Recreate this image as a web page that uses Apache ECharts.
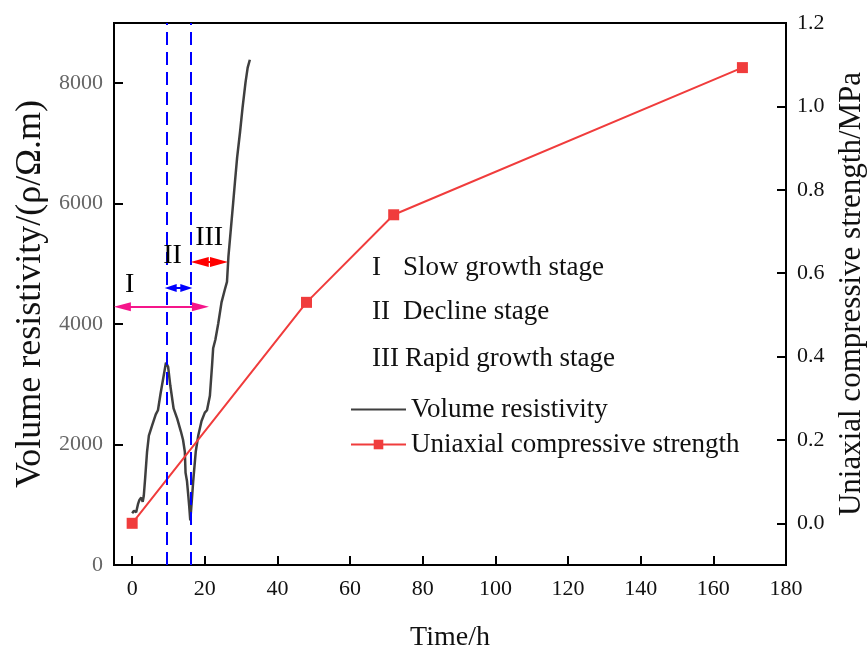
<!DOCTYPE html>
<html>
<head>
<meta charset="utf-8">
<script src="https://cdn.jsdelivr.net/npm/echarts@6/dist/echarts.min.js"></script>
<style>
  html, body { margin: 0; padding: 0; background: #fff; }
  #main { width: 867px; height: 650px; }
</style>
</head>
<body>
<div id="main"></div>
<script>
  // volume resistivity curve (time in h, rho in Ω.m)
  const resTime = [0, 0.5, 1.1, 1.6, 2.0, 2.5, 2.9, 3.2, 3.6, 4.1, 4.6, 5.5, 6.5, 7.1, 7.8, 8.7, 9.3,
    9.9, 10.5, 11.4, 12.4, 13.4, 14.0, 14.5, 14.7, 15.1, 15.4, 15.7, 16.0, 16.4, 16.8, 17.5, 18.2,
    19.1, 20.0, 20.6, 21.4, 22.0, 22.3, 22.9, 23.7, 24.6, 25.5, 26.1, 26.5, 27.1, 27.8, 28.3, 28.9,
    29.7, 30.4, 31.2, 31.8, 32.4]
  const resValue = [860, 900, 875, 1010, 1080, 1120, 1050, 1150, 1460, 1880, 2150, 2320, 2500, 2570, 2840, 3150, 3360,
    3290, 2980, 2600, 2430, 2220, 2080, 1880, 1530, 1390, 1190, 980, 740, 1050, 1390, 1880, 2150,
    2390, 2530, 2570, 2810, 3320, 3600, 3740, 4010, 4360, 4570, 4700, 5120, 5530, 6010, 6360, 6770,
    7190, 7600, 8010, 8260, 8390]

  // uniaxial compressive strength (MPa)
  const ucsTime = [0, 48, 72, 168]
  const ucsValue = [0, 0.53, 0.74, 1.093]

  // stage boundaries (h)
  const stageBounds = [9.4, 16.1]
  // stage arrows: [from, to, level] (ends sit at the arrow head centres)
  const arrowI = [-2.7, 18.8, 4290]
  const arrowII = [10.6, 14.9, 4600]
  const arrowIII = [18.6, 23.9, 5030]
  const stageNames = ['I', 'II', 'III']
  const stageLabelPos = [[-0.7, 4650], [11.1, 5130], [21.2, 5430]]

  const xTicks = [0, 20, 40, 60, 80, 100, 120, 140, 160, 180]
  const leftTicks = [0, 2000, 4000, 6000, 8000]
  const rightTicks = [0, 0.2, 0.4, 0.6, 0.8, 1.0, 1.2]

  const FONT = 'Liberation Serif'

  function arrowLine (a, color, size) {
    return {
      silent: true,
      label: { show: false },
      lineStyle: { color: color, width: 2, type: 'solid' },
      data: [[{ coord: [a[0], a[2]] }, { coord: [a[1], a[2]] }]],
      symbol: ['triangle', 'triangle'],
      symbolSize: size
    }
  }

  const option = {
    animation: false,
    textStyle: { fontFamily: FONT },
    grid: {
      left: 114, right: 81, top: 23, bottom: 85,
      outerBoundsMode: 'none',
      show: true, borderColor: '#000', borderWidth: 2
    },
    legend: {
      data: [
        { name: 'Volume resistivity', itemStyle: { opacity: 0 } },
        { name: 'Uniaxial compressive strength' }
      ],
      orient: 'vertical',
      left: 345, top: 391,
      itemWidth: 55, itemHeight: 12, itemGap: 8,
      textStyle: { fontFamily: FONT, fontSize: 27, color: '#111' }
    },
    xAxis: {
      type: 'value', min: -5, max: 180,
      name: 'Time/h', nameLocation: 'middle', nameGap: 59,
      nameTextStyle: { fontFamily: FONT, fontSize: 28, color: '#111' },
      axisLine: { show: true, onZero: false, lineStyle: { color: '#000', width: 2 } },
      axisTick: { show: true, inside: true, length: 9, customValues: xTicks, lineStyle: { color: '#000', width: 2 } },
      axisLabel: { customValues: xTicks, fontFamily: FONT, fontSize: 22, color: '#111', margin: 13 },
      splitLine: { show: false }
    },
    yAxis: [{
      type: 'value', min: 0, max: 9000,
      name: 'Volume resistivity/(ρ/Ω.m)', nameLocation: 'middle', nameGap: 60,
      nameTextStyle: { fontFamily: FONT, fontSize: 36, color: '#111' },
      axisLine: { show: true, onZero: false, lineStyle: { color: '#000', width: 2 } },
      axisTick: { show: true, inside: true, length: 9, customValues: leftTicks, lineStyle: { color: '#000', width: 2 } },
      axisLabel: {
        customValues: leftTicks, fontFamily: FONT, fontSize: 22, color: '#666', margin: 11,
        formatter: function (v) { return String(v) }
      },
      splitLine: { show: false }
    }, {
      type: 'value', min: -0.1, max: 1.2, position: 'right',
      name: 'Uniaxial compressive strength/MPa', nameLocation: 'middle', nameGap: 50,
      nameRotate: 90,
      nameTextStyle: { fontFamily: FONT, fontSize: 31, color: '#111' },
      axisLine: { show: true, onZero: false, lineStyle: { color: '#000', width: 2 } },
      axisTick: { show: true, inside: true, length: 9, customValues: rightTicks, lineStyle: { color: '#000', width: 2 } },
      axisLabel: {
        customValues: rightTicks, fontFamily: FONT, fontSize: 22, color: '#111', margin: 11,
        formatter: function (v) { return v.toFixed(1) }
      },
      splitLine: { show: false }
    }],
    graphic: [
      { type: 'text', left: 372, top: 254, style: { text: 'I', font: '27px ' + FONT, fill: '#111' } },
      { type: 'text', left: 403, top: 254, style: { text: 'Slow growth stage', font: '27px ' + FONT, fill: '#111' } },
      { type: 'text', left: 372, top: 298, style: { text: 'II', font: '27px ' + FONT, fill: '#111' } },
      { type: 'text', left: 403, top: 298, style: { text: 'Decline stage', font: '27px ' + FONT, fill: '#111' } },
      { type: 'text', left: 372, top: 345, style: { text: 'III', font: '27px ' + FONT, fill: '#111' } },
      { type: 'text', left: 405, top: 345, style: { text: 'Rapid growth stage', font: '27px ' + FONT, fill: '#111' } }
    ],
    series: [{
      name: 'Volume resistivity',
      type: 'line',
      yAxisIndex: 0,
      data: resTime.map((t, i) => [t, resValue[i]]),
      symbol: 'none',
      lineStyle: { color: '#3f3f3f', width: 2.5 },
      itemStyle: { color: '#3f3f3f' },
      z: 3,
      markLine: {
        silent: true,
        symbol: 'none',
        label: { show: false },
        lineStyle: { color: '#0000ff', width: 2, type: [13, 7] },
        data: stageBounds.map(b => ({ xAxis: b }))
      }
    }, {
      name: 'Uniaxial compressive strength',
      type: 'line',
      yAxisIndex: 1,
      data: ucsTime.map((t, i) => [t, ucsValue[i]]),
      symbol: 'rect',
      symbolSize: 11,
      lineStyle: { color: '#f03c3c', width: 2 },
      itemStyle: { color: '#f03c3c' },
      z: 4
    }, {
      name: 'arrowI', type: 'line', yAxisIndex: 0, data: [],
      markLine: arrowLine(arrowI, '#f5158a', [9, 17])
    }, {
      name: 'arrowII', type: 'line', yAxisIndex: 0, data: [],
      markLine: arrowLine(arrowII, '#0000ff', [8, 12])
    }, {
      name: 'arrowIII', type: 'line', yAxisIndex: 0, data: [],
      markLine: arrowLine(arrowIII, '#ff0000', [10, 18])
    }, {
      name: 'stageLabels', type: 'scatter', yAxisIndex: 0, silent: true,
      data: stageLabelPos.map((p, i) => [p[0], p[1], stageNames[i]]),
      symbolSize: 0,
      itemStyle: { color: '#000' },
      label: {
        show: true, position: 'inside', fontFamily: FONT, fontSize: 28,
        color: '#000', textBorderWidth: 0, opacity: 1,
        formatter: function (p) { return p.value[2] }
      },
      z: 5
    }]
  }

  const chart = echarts.init(document.getElementById('main'))
  chart.setOption(option)
</script>
</body>
</html>
